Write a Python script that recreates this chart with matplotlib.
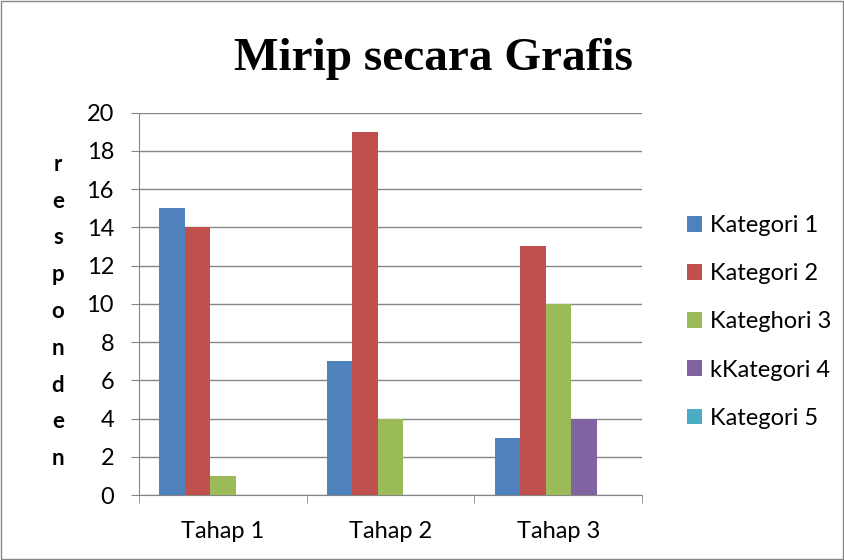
import matplotlib.pyplot as plt
from matplotlib.patches import Patch, Rectangle
import numpy as np

# data
tahap = ["Tahap 1", "Tahap 2", "Tahap 3"]
seri = ["Kategori 1", "Kategori 2", "Kateghori 3", "kKategori 4", "Kategori 5"]
kategori_1 = [15, 7, 3]
kategori_2 = [14, 19, 13]
kategori_3 = [1, 4, 10]
kategori_4 = [0, 0, 4]
kategori_5 = [0, 0, 0]
nilai = [kategori_1, kategori_2, kategori_3, kategori_4, kategori_5]
warna = ["#4F81BD", "#C0504D", "#9BBB59", "#8064A2", "#4BACC6"]

plt.rcParams['font.family'] = ['Lato', 'DejaVu Sans']

fig = plt.figure(figsize=(8.45, 5.6), dpi=100)
ax = fig.add_axes([0.1645, 0.116, 0.5955, 0.683])

x = np.arange(len(tahap))
lebar = 0.152
for j, (nama, vals) in enumerate(zip(seri, nilai)):
    pos = x + (j - 2) * lebar
    ax.bar(pos, vals, width=lebar, color=warna[j], label=nama, zorder=3)

ax.set_xlim(-0.5, 2.5)
ax.set_ylim(0, 20)
ax.set_yticks(range(0, 21, 2))
ax.set_xticks(x)
ax.set_xticklabels(tahap, fontsize=17)
ax.tick_params(axis='x', length=0, pad=19)
ax.set_xticks([-0.5, 0.5, 1.5, 2.5], minor=True)
ax.tick_params(axis='x', which='minor', length=6, color='#868686', direction='out')
ax.tick_params(axis='y', labelsize=17, length=6, color='#868686', pad=12)
ax.grid(axis='y', color='#868686', linewidth=1, zorder=0)
for s in ['top', 'right']:
    ax.spines[s].set_visible(False)
for s in ['left', 'bottom']:
    ax.spines[s].set_color('#868686')

# vertical stacked y-label
ax.text(-0.161, 0.48, "\n".join("responden"), transform=ax.transAxes,
        ha='center', va='center', fontsize=16, fontweight='bold', linespacing=1.93)

fig.text(0.513, 0.895, "Mirip secara Grafis", ha='center', va='center',
         fontsize=34, fontweight='bold', family='Liberation Serif')

handles = [Patch(facecolor=c, label=n) for c, n in zip(warna, seri)]
fig.legend(handles=handles, loc='center left', bbox_to_anchor=(0.788, 0.425),
           frameon=False, fontsize=17, labelspacing=1.15, handlelength=0.65,
           handleheight=0.65, handletextpad=0.3)

fig.patches.append(Rectangle((0.001, 0.001), 0.997, 0.997, transform=fig.transFigure,
                             fill=False, edgecolor='#868686', linewidth=1))

fig.savefig("out.png", dpi=100)
